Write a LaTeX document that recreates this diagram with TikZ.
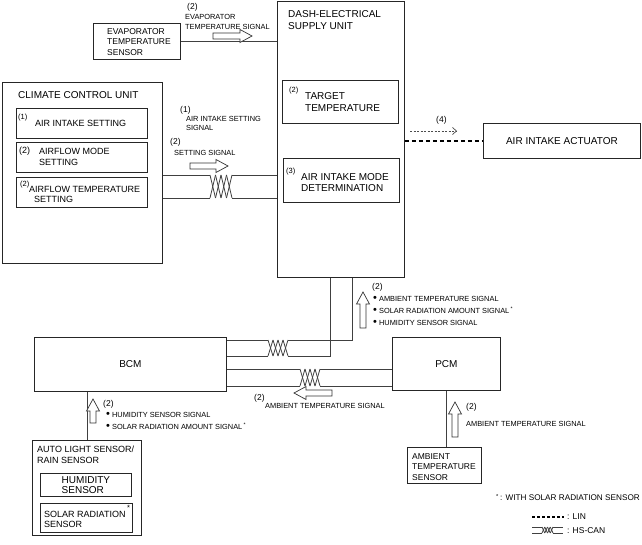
\documentclass[tikz,border=0pt]{standalone}
\usepackage{fontspec}
\setmainfont{Liberation Sans}
\usepackage{tikz}
\usetikzlibrary{arrows.meta}

% twisted pair: name, x left, x right, y top, y bottom
\newcommand{\twist}[5]{%
  \coordinate (#1-tl) at (#2,#4);
  \coordinate (#1-bl) at (#2,#5);
  \coordinate (#1-tr) at (#3,#4);
  \coordinate (#1-br) at (#3,#5);
  \foreach \k in {0,...,3}{
    \draw[wire] ({#2+\k*(#3-#2)/4},#4) -- ({#2+(\k+1)*(#3-#2)/4},#5);
    \draw[wire] ({#2+\k*(#3-#2)/4},#5) -- ({#2+(\k+1)*(#3-#2)/4},#4);
  }}
\newcommand{\bul}{{\fontsize{11}{11}\selectfont\raisebox{-0.6pt}{\textbullet}}\ }

\begin{document}
\begin{tikzpicture}[x=1pt,y=-1pt,
  box/.style={draw=black!85, line width=0.8pt, inner sep=0pt, anchor=north west},
  wire/.style={draw=black!75, line width=0.8pt},
  txt/.style={inner sep=0pt, anchor=north west, align=left},
  big/.style={txt, font=\fontsize{10}{12.3}\selectfont},
  mid/.style={txt, font=\fontsize{9}{10.5}\selectfont},
  lbl/.style={txt, font=\fontsize{7.4}{9.4}\selectfont},
  blist/.style={txt, font=\fontsize{7.4}{12}\selectfont},
  num/.style={txt, font=\fontsize{8.5}{10}\selectfont},
  numsm/.style={txt, font=\fontsize{7.5}{9}\selectfont},
  hollow/.style={draw=black!80, line width=0.7pt, fill=white},
  pics/sigarrow/.style={code={
    \draw[hollow] (0,-3) -- ({#1-12},-3) -- ({#1-12},-6.5) -- (#1,0)
      -- ({#1-12},6.5) -- ({#1-12},3) -- (0,3) -- cycle;}}]
\useasboundingbox (0,0) rectangle (642,545);

% units
\node[box, minimum width=87pt, minimum height=36pt] (evap) at (93,23) {};
\node[txt, font=\fontsize{8.5}{10.5}\selectfont] (evapT) at (107,28) {EVAPORATOR\\TEMPERATURE\\SENSOR};
\node[box, minimum width=127pt, minimum height=276pt] (dash) at (277,1) {};
\node[big] (dashT) at (288,10) {DASH-ELECTRICAL\\SUPPLY UNIT};
\node[box, minimum width=116pt, minimum height=43pt] (tgt) at (282,80) {};
\node[numsm] (tgtN) at (289,87) {(2)};
\node[big, font=\fontsize{10}{12.7}\selectfont] (tgtT) at (305,92) {TARGET\\TEMPERATURE};
\node[box, minimum width=116pt, minimum height=44pt] (aim) at (283,158) {};
\node[numsm] (aimN) at (286,168) {(3)};
\node[big, font=\fontsize{10}{11.8}\selectfont] (aimT) at (301,173) {AIR INTAKE MODE\\DETERMINATION};

\node[box, minimum width=160pt, minimum height=181pt] (ccu) at (2,82) {};
\node[big] (ccuT) at (18,91) {CLIMATE CONTROL UNIT};
\node[box, minimum width=131pt, minimum height=30pt] (set1) at (16,108) {};
\node[numsm] (set1N) at (18,114) {(1)};
\node[mid] (set1T) at (35,120.5) {AIR INTAKE SETTING};
\node[box, minimum width=131pt, minimum height=30pt] (set2) at (16,142.5) {};
\node[mid] (set2N) at (19,147) {(2)};
\node[mid, font=\fontsize{9}{11}\selectfont] (set2T) at (39,148.5) {AIRFLOW MODE\\SETTING};
\node[box, minimum width=131pt, minimum height=30pt] (set3) at (16,177) {};
\node[numsm] (set3N) at (20,181) {(2)};
\node[mid, font=\fontsize{9}{10.3}\selectfont] (set3T) at (29,186) {AIRFLOW TEMPERATURE\\\hspace*{5pt}SETTING};

\node[box, font=\fontsize{10}{12}\selectfont, minimum width=157pt, minimum height=35pt] (act) at (483,123) {AIR INTAKE ACTUATOR};
\node[box, font=\fontsize{10}{12}\selectfont, minimum width=192pt, minimum height=54pt] (bcm) at (34,337) {BCM};
\node[box, font=\fontsize{10}{12}\selectfont, minimum width=108pt, minimum height=53pt] (pcm) at (392,337) {PCM};

\node[box, minimum width=109pt, minimum height=95pt] (auto) at (32,440) {};
\node[mid] (autoT) at (37,446) {AUTO LIGHT SENSOR/\\RAIN SENSOR};
\node[box, font=\fontsize{10}{10.2}\selectfont, align=left, minimum width=91pt, minimum height=23pt] (hum) at (40,473) {HUMIDITY\\SENSOR};
\node[box, minimum width=92pt, minimum height=29pt] (solar) at (40,503) {};
\node[mid, font=\fontsize{9}{10.2}\selectfont] (solarT) at (44,511) {SOLAR RADIATION\\SENSOR};
\node[numsm] (solarS) at (127,505) {*};

\node[box, minimum width=74pt, minimum height=36pt] (amb) at (407,447) {};
\node[txt, font=\fontsize{8.5}{10.5}\selectfont] (ambT) at (412,453) {AMBIENT\\TEMPERATURE\\SENSOR};

% wires
\draw[wire] (evap.east) -- (evap.east -| dash.west);
\twist{twA}{210}{232}{175}{198}
\draw[wire] (ccu.east |- twA-tl) -- (twA-tl);
\draw[wire] (ccu.east |- twA-bl) -- (twA-bl);
\draw[wire] (twA-tr) -- (dash.west |- twA-tr);
\draw[wire] (twA-br) -- (dash.west |- twA-br);
\draw[wire, dash pattern=on 4pt off 3pt, line width=1.6pt, draw=black] (dash.east |- act.west) -- (act.west);

\twist{twB}{268}{288}{340}{356}
\draw[wire] (bcm.east |- twB-tl) -- (twB-tl);
\draw[wire] (bcm.east |- twB-bl) -- (twB-bl);
\draw[wire] (twB-tr) -| ([xshift=11.5pt]dash.south);
\draw[wire] (twB-br) -| ([xshift=-10.5pt]dash.south);

\twist{twC}{300}{320}{369}{386}
\draw[wire] (bcm.east |- twC-tl) -- (twC-tl);
\draw[wire] (bcm.east |- twC-bl) -- (twC-bl);
\draw[wire] (twC-tr) -- (pcm.west |- twC-tr);
\draw[wire] (twC-br) -- (pcm.west |- twC-br);

\draw[wire] (auto.north) -- (auto.north |- bcm.south);
\draw[wire] (pcm.south) -- (pcm.south |- amb.north);

% signals
\node[num] (evapN) at (187,3) {(2)};
\node[lbl] (evapS) at (185,14.5) {EVAPORATOR\\TEMPERATURE SIGNAL};
\pic at (213,36) {sigarrow=39};

\node[num] (sig1N) at (180,106) {(1)};
\node[lbl, font=\fontsize{7.4}{9}\selectfont] (sig1) at (186,116.5) {AIR INTAKE SETTING\\SIGNAL};
\node[num] (sig2N) at (170,138.5) {(2)};
\node[lbl] (sig2) at (174,150.5) {SETTING SIGNAL};
\pic at (190,166) {sigarrow=38};

\coordinate (d4a) at (410,131);
\coordinate (d4b) at (457,131);
\draw[black!70, line width=0.7pt, dash pattern=on 2pt off 1.5pt, -{Straight Barb[length=4pt,width=7pt]}] (d4a) -- (d4b);
\node[num] (d4N) at (436,116) {(4)};

\pic[rotate=90] at (363,328) {sigarrow=36};
\node[num] (upN) at (372,283) {(2)};
\node[blist] (upS) at (373,296) {\bul AMBIENT TEMPERATURE SIGNAL\\\bul SOLAR RADIATION AMOUNT SIGNAL\,\textsuperscript{*}\\\bul HUMIDITY SENSOR SIGNAL};

\pic[rotate=180] at (332,393) {sigarrow=38};
\node[num] (ltN) at (254,394) {(2)};
\node[lbl] (ltS) at (265,403) {AMBIENT TEMPERATURE SIGNAL};

\pic[rotate=90] at (93,423) {sigarrow=24};
\node[num] (alN) at (103,400) {(2)};
\node[blist] (alS) at (106,412) {\bul HUMIDITY SENSOR SIGNAL\\\bul SOLAR RADIATION AMOUNT SIGNAL\,\textsuperscript{*}};

\pic[rotate=90] at (455,437) {sigarrow=35};
\node[num] (atN) at (466,403) {(2)};
\node[lbl] (atS) at (466,421) {AMBIENT TEMPERATURE SIGNAL};

% legend
\node[txt, font=\fontsize{8.2}{10}\selectfont, anchor=north east] (note) at (640,494) {\textsuperscript{*}\,: WITH SOLAR RADIATION SENSOR};
\coordinate (linA) at (532,517);
\coordinate (linB) at (564,517);
\draw[black, line width=1.2pt, dash pattern=on 3pt off 2pt] (linA) -- (linB);
\node[txt, font=\fontsize{8.5}{10}\selectfont, anchor=west] (linT) at (567,517) {: LIN};
\twist{twL}{542}{553}{527}{533}
\draw[wire] (532,527) -- (twL-tl);
\draw[wire] (532,533) -- (twL-bl);
\draw[wire] (twL-tr) -- (563,527);
\draw[wire] (twL-br) -- (563,533);
\node[txt, font=\fontsize{8.5}{10}\selectfont, anchor=west] (canT) at (567,531) {: HS-CAN};
\end{tikzpicture}
\end{document}
